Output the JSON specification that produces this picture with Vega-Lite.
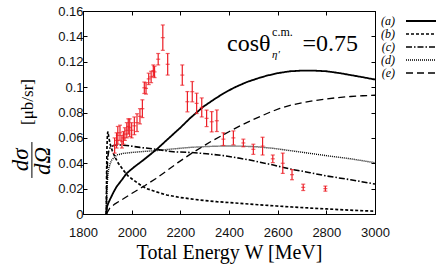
{
  "$schema": "https://vega.github.io/schema/vega-lite/v6.json",
  "width": 292,
  "height": 203,
  "autosize": "none",
  "padding": {"left": 83, "top": 11, "right": 61, "bottom": 51},
  "background": "white",
  "config": {
    "view": {"stroke": "black", "strokeWidth": 1},
    "axis": {
      "domainColor": "black", "domainWidth": 1, "tickColor": "black", "grid": false,
      "labelFont": "Liberation Sans", "labelFontSize": 13, "labelColor": "#111", "labelFlush": false,
      "titleFont": "Liberation Serif", "titleFontWeight": "normal", "titleColor": "black",
      "tickSize": -4, "labelPadding": 4
    }
  },
  "datasets": {
    "curves": [
      {"model": "(a)", "W": 1896, "v": 0}, {"model": "(a)", "W": 1899, "v": 0.006}, {"model": "(a)", "W": 1905, "v": 0.009},
      {"model": "(a)", "W": 1911, "v": 0.0115}, {"model": "(a)", "W": 1925, "v": 0.017}, {"model": "(a)", "W": 1938, "v": 0.0215},
      {"model": "(a)", "W": 1960, "v": 0.027}, {"model": "(a)", "W": 1979, "v": 0.032}, {"model": "(a)", "W": 2010, "v": 0.037},
      {"model": "(a)", "W": 2048, "v": 0.0425}, {"model": "(a)", "W": 2103, "v": 0.051}, {"model": "(a)", "W": 2157, "v": 0.0605},
      {"model": "(a)", "W": 2200, "v": 0.068}, {"model": "(a)", "W": 2240, "v": 0.0755}, {"model": "(a)", "W": 2294, "v": 0.0845},
      {"model": "(a)", "W": 2340, "v": 0.0905}, {"model": "(a)", "W": 2377, "v": 0.095}, {"model": "(a)", "W": 2420, "v": 0.0995},
      {"model": "(a)", "W": 2473, "v": 0.104}, {"model": "(a)", "W": 2520, "v": 0.107}, {"model": "(a)", "W": 2555, "v": 0.109},
      {"model": "(a)", "W": 2600, "v": 0.111}, {"model": "(a)", "W": 2651, "v": 0.1125}, {"model": "(a)", "W": 2700, "v": 0.113},
      {"model": "(a)", "W": 2750, "v": 0.113}, {"model": "(a)", "W": 2800, "v": 0.1125}, {"model": "(a)", "W": 2856, "v": 0.111},
      {"model": "(a)", "W": 2900, "v": 0.1095}, {"model": "(a)", "W": 2950, "v": 0.1078}, {"model": "(a)", "W": 3000, "v": 0.106},

      {"model": "(b)", "W": 1896, "v": 0}, {"model": "(b)", "W": 1897, "v": 0.03}, {"model": "(b)", "W": 1898.5, "v": 0.052},
      {"model": "(b)", "W": 1900, "v": 0.061}, {"model": "(b)", "W": 1902, "v": 0.065}, {"model": "(b)", "W": 1904, "v": 0.063},
      {"model": "(b)", "W": 1907, "v": 0.0595}, {"model": "(b)", "W": 1911, "v": 0.0555}, {"model": "(b)", "W": 1920, "v": 0.05},
      {"model": "(b)", "W": 1931, "v": 0.045}, {"model": "(b)", "W": 1945, "v": 0.04}, {"model": "(b)", "W": 1966, "v": 0.0345},
      {"model": "(b)", "W": 1985, "v": 0.03}, {"model": "(b)", "W": 2007, "v": 0.0268}, {"model": "(b)", "W": 2035, "v": 0.023},
      {"model": "(b)", "W": 2062, "v": 0.02}, {"model": "(b)", "W": 2100, "v": 0.0175}, {"model": "(b)", "W": 2144, "v": 0.015},
      {"model": "(b)", "W": 2200, "v": 0.013}, {"model": "(b)", "W": 2281, "v": 0.011}, {"model": "(b)", "W": 2350, "v": 0.0097},
      {"model": "(b)", "W": 2445, "v": 0.0084}, {"model": "(b)", "W": 2520, "v": 0.0073}, {"model": "(b)", "W": 2596, "v": 0.0063},
      {"model": "(b)", "W": 2660, "v": 0.0055}, {"model": "(b)", "W": 2733, "v": 0.0047}, {"model": "(b)", "W": 2800, "v": 0.004},
      {"model": "(b)", "W": 2900, "v": 0.003}, {"model": "(b)", "W": 3000, "v": 0.0022},

      {"model": "(c)", "W": 1896, "v": 0}, {"model": "(c)", "W": 1897, "v": 0.02}, {"model": "(c)", "W": 1899, "v": 0.035},
      {"model": "(c)", "W": 1902, "v": 0.045}, {"model": "(c)", "W": 1906, "v": 0.05}, {"model": "(c)", "W": 1912, "v": 0.0525},
      {"model": "(c)", "W": 1925, "v": 0.054}, {"model": "(c)", "W": 1945, "v": 0.0545}, {"model": "(c)", "W": 1980, "v": 0.054},
      {"model": "(c)", "W": 2034, "v": 0.0525}, {"model": "(c)", "W": 2100, "v": 0.051}, {"model": "(c)", "W": 2171, "v": 0.049},
      {"model": "(c)", "W": 2240, "v": 0.0485}, {"model": "(c)", "W": 2308, "v": 0.0475}, {"model": "(c)", "W": 2377, "v": 0.046},
      {"model": "(c)", "W": 2445, "v": 0.0439}, {"model": "(c)", "W": 2486, "v": 0.0425}, {"model": "(c)", "W": 2582, "v": 0.0386},
      {"model": "(c)", "W": 2650, "v": 0.0355}, {"model": "(c)", "W": 2733, "v": 0.0326}, {"model": "(c)", "W": 2800, "v": 0.03},
      {"model": "(c)", "W": 2900, "v": 0.027}, {"model": "(c)", "W": 3000, "v": 0.0236},

      {"model": "(d)", "W": 1896, "v": 0}, {"model": "(d)", "W": 1897, "v": 0.012}, {"model": "(d)", "W": 1899, "v": 0.022},
      {"model": "(d)", "W": 1902, "v": 0.03}, {"model": "(d)", "W": 1906, "v": 0.036}, {"model": "(d)", "W": 1912, "v": 0.04},
      {"model": "(d)", "W": 1918, "v": 0.0425}, {"model": "(d)", "W": 1938, "v": 0.0465}, {"model": "(d)", "W": 1966, "v": 0.0478},
      {"model": "(d)", "W": 2000, "v": 0.0485}, {"model": "(d)", "W": 2050, "v": 0.0493}, {"model": "(d)", "W": 2103, "v": 0.05},
      {"model": "(d)", "W": 2170, "v": 0.0513}, {"model": "(d)", "W": 2240, "v": 0.0525}, {"model": "(d)", "W": 2310, "v": 0.0532},
      {"model": "(d)", "W": 2377, "v": 0.0536}, {"model": "(d)", "W": 2450, "v": 0.0535}, {"model": "(d)", "W": 2514, "v": 0.053},
      {"model": "(d)", "W": 2580, "v": 0.0518}, {"model": "(d)", "W": 2650, "v": 0.05}, {"model": "(d)", "W": 2733, "v": 0.0478},
      {"model": "(d)", "W": 2800, "v": 0.046}, {"model": "(d)", "W": 2900, "v": 0.0435}, {"model": "(d)", "W": 3000, "v": 0.0404},

      {"model": "(e)", "W": 1896, "v": 0}, {"model": "(e)", "W": 1910, "v": 0.0045}, {"model": "(e)", "W": 1930, "v": 0.0078},
      {"model": "(e)", "W": 1966, "v": 0.012}, {"model": "(e)", "W": 2000, "v": 0.0162}, {"model": "(e)", "W": 2055, "v": 0.0225},
      {"model": "(e)", "W": 2100, "v": 0.028}, {"model": "(e)", "W": 2144, "v": 0.034}, {"model": "(e)", "W": 2190, "v": 0.0405},
      {"model": "(e)", "W": 2240, "v": 0.047}, {"model": "(e)", "W": 2290, "v": 0.053}, {"model": "(e)", "W": 2329, "v": 0.0575},
      {"model": "(e)", "W": 2377, "v": 0.0625}, {"model": "(e)", "W": 2445, "v": 0.0695}, {"model": "(e)", "W": 2500, "v": 0.0745},
      {"model": "(e)", "W": 2568, "v": 0.0802}, {"model": "(e)", "W": 2609, "v": 0.0832}, {"model": "(e)", "W": 2651, "v": 0.0857},
      {"model": "(e)", "W": 2700, "v": 0.0877}, {"model": "(e)", "W": 2750, "v": 0.0894}, {"model": "(e)", "W": 2800, "v": 0.0907},
      {"model": "(e)", "W": 2850, "v": 0.0918}, {"model": "(e)", "W": 2900, "v": 0.0926}, {"model": "(e)", "W": 2950, "v": 0.0932},
      {"model": "(e)", "W": 3000, "v": 0.0936}
    ],
    "points": [
      {"W": 1930, "v": 0.054, "err": 0.006}, {"W": 1938, "v": 0.058, "err": 0.006}, {"W": 1943, "v": 0.062, "err": 0.007},
      {"W": 1952, "v": 0.064, "err": 0.006}, {"W": 1960, "v": 0.057, "err": 0.005}, {"W": 1966, "v": 0.06, "err": 0.005},
      {"W": 1972, "v": 0.063, "err": 0.005}, {"W": 1980, "v": 0.066, "err": 0.006}, {"W": 1986, "v": 0.069, "err": 0.006},
      {"W": 1992, "v": 0.068, "err": 0.007}, {"W": 2000, "v": 0.066, "err": 0.006}, {"W": 2011, "v": 0.0695, "err": 0.007},
      {"W": 2022, "v": 0.072, "err": 0.007}, {"W": 2034, "v": 0.077, "err": 0.006}, {"W": 2044, "v": 0.083, "err": 0.007},
      {"W": 2052, "v": 0.0995, "err": 0.0045}, {"W": 2059, "v": 0.099, "err": 0.0045}, {"W": 2070, "v": 0.1065, "err": 0.0045},
      {"W": 2080, "v": 0.108, "err": 0.0045}, {"W": 2089, "v": 0.113, "err": 0.0045}, {"W": 2094, "v": 0.112, "err": 0.0045},
      {"W": 2109, "v": 0.122, "err": 0.0045}, {"W": 2128, "v": 0.139, "err": 0.01}, {"W": 2148, "v": 0.118, "err": 0.0085},
      {"W": 2208, "v": 0.1095, "err": 0.008}, {"W": 2229, "v": 0.0885, "err": 0.008}, {"W": 2249, "v": 0.0964, "err": 0.008},
      {"W": 2267, "v": 0.0872, "err": 0.008}, {"W": 2288, "v": 0.084, "err": 0.0075}, {"W": 2308, "v": 0.0754, "err": 0.0065},
      {"W": 2329, "v": 0.0727, "err": 0.008}, {"W": 2350, "v": 0.0735, "err": 0.0085}, {"W": 2377, "v": 0.059, "err": 0.005},
      {"W": 2418, "v": 0.06, "err": 0.0055}, {"W": 2459, "v": 0.056, "err": 0.003}, {"W": 2500, "v": 0.051, "err": 0.004},
      {"W": 2538, "v": 0.0535, "err": 0.007}, {"W": 2580, "v": 0.0435, "err": 0.003}, {"W": 2621, "v": 0.04, "err": 0.008},
      {"W": 2659, "v": 0.031, "err": 0.004}, {"W": 2705, "v": 0.021, "err": 0.0025}, {"W": 2796, "v": 0.02, "err": 0.002}
    ]
  },
  "resolve": {"axis": {"x": "independent", "y": "independent"}},
  "layer": [
    {
      "data": {"name": "curves"},
      "mark": {"type": "line", "color": "black", "clip": true},
      "encoding": {
        "x": {"field": "W", "type": "quantitative", "scale": {"domain": [1800, 3000], "nice": false},
              "axis": {"orient": "bottom", "values": [1800, 2000, 2200, 2400, 2600, 2800, 3000], "format": "d", "labelPadding": 16,
                       "title": "Total Energy W [MeV]", "titleFont": "Liberation Serif", "titleFontSize": 20, "titlePadding": 3}},
        "y": {"field": "v", "type": "quantitative", "scale": {"domain": [0, 0.16], "nice": false},
              "axis": {"orient": "left", "values": [0, 0.02, 0.04, 0.06, 0.08, 0.1, 0.12, 0.14, 0.16], "format": "~g", "title": null}},
        "strokeDash": {"field": "model", "type": "nominal",
          "scale": {"domain": ["(a)", "(b)", "(c)", "(d)", "(e)"], "range": [[1, 0], [3, 2], [6, 2, 1.5, 2], [1, 1], [7, 4]]},
          "legend": {"orient": "none", "legendX": 337, "legendY": 4, "title": null,
                     "symbolType": "M-4,0H4", "symbolSize": 100, "symbolStrokeWidth": 1.3, "symbolStrokeColor": "black",
                     "symbolFillColor": "transparent",
                     "labelFont": "Liberation Serif", "labelFontSize": 12, "labelFontStyle": "italic", "labelColor": "black",
                     "labelAlign": "right", "labelOffset": -37, "rowPadding": 1}},
        "strokeWidth": {"field": "model", "type": "nominal",
          "scale": {"domain": ["(a)", "(b)", "(c)", "(d)", "(e)"], "range": [1.8, 1.3, 1.4, 1.3, 1.6]}, "legend": null}
      }
    },
    {
      "data": {"name": "points"},
      "mark": {"type": "errorbar", "ticks": true, "size": 4, "thickness": 1.2, "color": "#ec1c24"},
      "encoding": {
        "x": {"field": "W", "type": "quantitative", "axis": null},
        "y": {"field": "v", "type": "quantitative", "axis": null},
        "yError": {"field": "err"}
      }
    },
    {
      "data": {"name": "points"},
      "mark": {"type": "tick", "orient": "horizontal", "size": 4, "thickness": 1.2, "color": "#ec1c24"},
      "encoding": {
        "x": {"field": "W", "type": "quantitative", "axis": {"orient": "top", "labels": false, "title": null, "values": [1800, 2000, 2200, 2400, 2600, 2800, 3000]}},
        "y": {"field": "v", "type": "quantitative", "axis": {"orient": "right", "labels": false, "title": null, "values": [0, 0.02, 0.04, 0.06, 0.08, 0.1, 0.12, 0.14, 0.16]}}
      }
    },
    {
      "data": {"values": [{}]},
      "mark": {"type": "text", "text": "cosθ", "font": "Liberation Serif", "fontSize": 24, "align": "left", "baseline": "alphabetic", "color": "black"},
      "encoding": {"x": {"datum": 2392, "type": "quantitative", "axis": null}, "y": {"datum": 0.1285, "type": "quantitative", "axis": null}}
    },
    {
      "data": {"values": [{}]},
      "mark": {"type": "text", "text": "c.m.", "font": "Liberation Serif", "fontSize": 12, "align": "left", "baseline": "alphabetic", "color": "black"},
      "encoding": {"x": {"datum": 2577, "type": "quantitative", "axis": null}, "y": {"datum": 0.1403, "type": "quantitative", "axis": null}}
    },
    {
      "data": {"values": [{}]},
      "mark": {"type": "text", "text": "η′", "font": "Liberation Serif", "fontSize": 11, "fontStyle": "italic", "align": "left", "baseline": "alphabetic", "color": "black"},
      "encoding": {"x": {"datum": 2577, "type": "quantitative", "axis": null}, "y": {"datum": 0.123, "type": "quantitative", "axis": null}}
    },
    {
      "data": {"values": [{}]},
      "mark": {"type": "text", "text": "=0.75", "font": "Liberation Serif", "fontSize": 24, "align": "right", "baseline": "alphabetic", "color": "black"},
      "encoding": {"x": {"datum": 2930, "type": "quantitative", "axis": null}, "y": {"datum": 0.1285, "type": "quantitative", "axis": null}}
    },
    {
      "data": {"values": [{}]},
      "mark": {"type": "text", "text": "dσ", "font": "Liberation Serif", "fontSize": 23, "fontStyle": "italic", "angle": 270, "align": "center", "baseline": "middle", "color": "black"},
      "encoding": {"x": {"datum": 1545, "type": "quantitative", "axis": null}, "y": {"datum": 0.0426, "type": "quantitative", "axis": null}}
    },
    {
      "data": {"values": [{}]},
      "mark": {"type": "rule", "color": "black", "strokeWidth": 1},
      "encoding": {"x": {"datum": 1590, "type": "quantitative", "axis": null}, "y": {"datum": 0.0567, "type": "quantitative", "axis": null}, "y2": {"datum": 0.0284}}
    },
    {
      "data": {"values": [{}]},
      "mark": {"type": "text", "text": "dΩ", "font": "Liberation Serif", "fontSize": 23, "fontStyle": "italic", "angle": 270, "align": "center", "baseline": "middle", "color": "black"},
      "encoding": {"x": {"datum": 1636, "type": "quantitative", "axis": null}, "y": {"datum": 0.0418, "type": "quantitative", "axis": null}}
    },
    {
      "data": {"values": [{}]},
      "mark": {"type": "text", "text": "[μb/sr]", "font": "Liberation Serif", "fontSize": 17, "angle": 270, "align": "center", "baseline": "middle", "color": "black"},
      "encoding": {"x": {"datum": 1574, "type": "quantitative", "axis": null}, "y": {"datum": 0.0883, "type": "quantitative", "axis": null}}
    }
  ]
}
